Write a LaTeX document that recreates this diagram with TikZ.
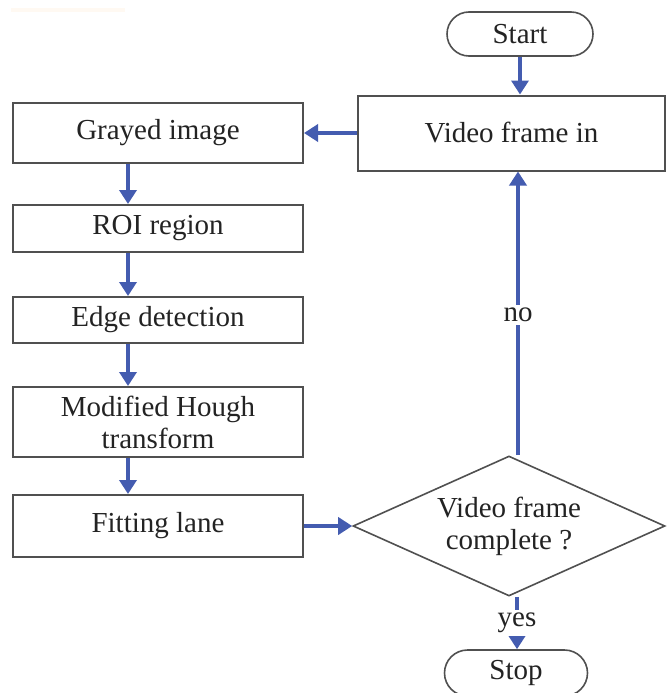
\documentclass[tikz,border=0pt]{standalone}
\usepackage{fontspec}
\setmainfont{Liberation Serif}
\usetikzlibrary{shapes.geometric,shapes.misc,arrows.meta}
\definecolor{arrowblue}{RGB}{68,92,176}
\definecolor{boxgray}{RGB}{80,80,80}
\definecolor{txtgray}{RGB}{35,35,35}
\begin{document}
\begin{tikzpicture}[x=1pt,y=-1pt,
  every node/.style={font=\fontsize{29}{32}\selectfont, text=txtgray},
  procbox/.style={draw=boxgray, line width=2pt, rectangle, inner sep=0pt, align=center},
  termbox/.style={draw=boxgray, line width=1.6pt, rounded rectangle, inner sep=0pt},
  decbox/.style={draw=boxgray, line width=1.6pt, diamond, inner sep=0pt, aspect=2.2, align=center},
  flow/.style={draw=arrowblue, line width=3.6pt, -{Triangle[width=17pt,length=14pt]}},
  lbl/.style={fill=white, inner sep=3pt}]
\fill[white] (0,0) rectangle (667,693);
\useasboundingbox (0,0) rectangle (667,693);
\clip (0,0) rectangle (667,693);
\fill[orange!5] (11,8) rectangle (125,12);
% nodes
\node[termbox, minimum width=146, minimum height=44] (start) at (520,34) {Start};
\node[procbox, minimum width=307, minimum height=75] (vfin) at (511.5,133) {Video frame in};
\node[procbox, minimum width=290, minimum height=60] (gray) at (158,133) {Grayed image};
\node[procbox, minimum width=290, minimum height=47] (roi) at (158,228.5) {ROI region};
\node[procbox, minimum width=290, minimum height=46] (edge) at (158,320) {Edge detection};
\node[procbox, minimum width=290, minimum height=70] (hough) at (158,422) {Modified Hough\\transform};
\node[procbox, minimum width=290, minimum height=62] (fit) at (158,526) {Fitting lane};
\node[decbox, minimum width=312, minimum height=140] (dec) at (509,526) {Video frame\\complete ?};
\node[termbox, minimum width=143, minimum height=46] (stop) at (516,673) {Stop};
% connectors
\draw[flow] (start.south) -- (start.south |- vfin.north);
\draw[flow] (vfin.west |- gray.east) -- (gray.east);
\draw[flow] ([xshift=-30pt]gray.south) -- ([xshift=-30pt]roi.north);
\draw[flow] ([xshift=-30pt]roi.south) -- ([xshift=-30pt]edge.north);
\draw[flow] ([xshift=-30pt]edge.south) -- ([xshift=-30pt]hough.north);
\draw[flow] ([xshift=-30pt]hough.south) -- ([xshift=-30pt]fit.north);
\draw[flow] (fit.east) -- (dec.west);
\coordinate (topv) at ([xshift=9pt]dec.north);
\draw[flow] (topv) -- node[lbl, pos=0.495] (no) {no} (topv |- vfin.south);
\coordinate (botv) at ([xshift=8pt]dec.south);
\draw[flow] (botv) -- node[lbl, pos=0.5] (yes) {yes} (botv |- stop.north);
\end{tikzpicture}
\end{document}
